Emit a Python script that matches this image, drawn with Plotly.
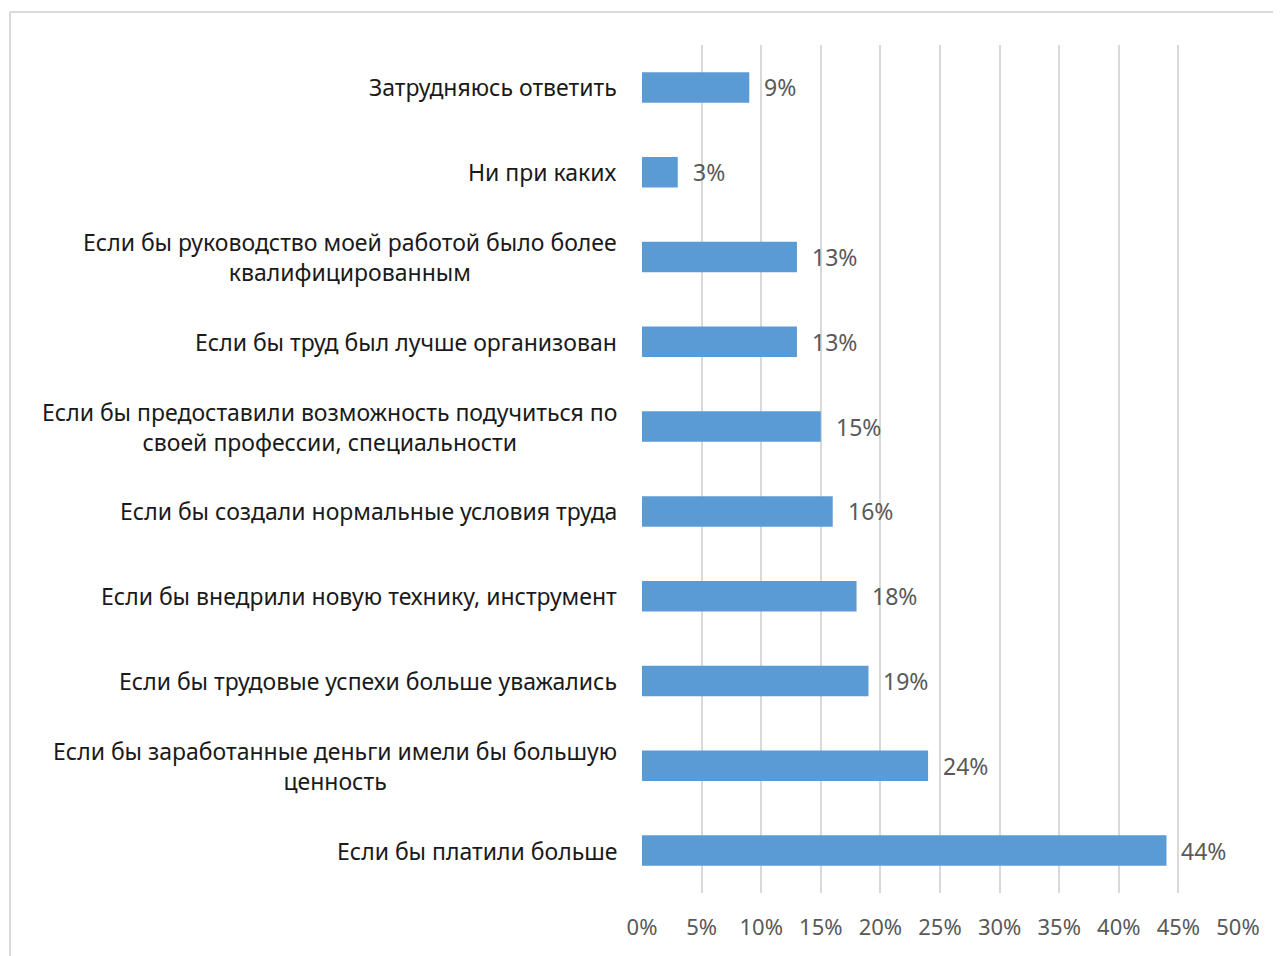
import plotly.graph_objects as go

categories = [
    "Затрудняюсь ответить",
    "Ни при каких",
    "Если бы руководство моей работой было более<br>квалифицированным",
    "Если бы труд был лучше организован",
    "Если бы предоставили возможность подучиться по<br>своей профессии, специальности",
    "Если бы создали нормальные условия труда",
    "Если бы внедрили новую технику, инструмент",
    "Если бы трудовые успехи больше уважались",
    "Если бы заработанные деньги имели бы большую<br>ценность",
    "Если бы платили больше",
]
values = [9, 3, 13, 13, 15, 16, 18, 19, 24, 44]
tick_vals = [0, 5, 10, 15, 20, 25, 30, 35, 40, 45, 50]
tick_text = [f"{v}%" for v in tick_vals]

# page body has an 8px margin; figure is offset by it
OFF = 8
W, H = 1281, 956
L, R, T, B = 642 - OFF, 1281 + OFF - 1238, 45 - OFF, 956 + OFF - 893
FONT = "Noto Sans"

fig = go.Figure()
fig.add_trace(go.Bar(
    x=values, y=categories, orientation="h",
    marker=dict(color="#5B9BD5", line=dict(width=0)),
    width=0.36, hoverinfo="x+y",
))

annotations = []
for c, v in zip(categories, values):
    annotations.append(dict(
        x=0, xref="paper", y=c, yref="y", text=c, showarrow=False,
        xanchor="right", yanchor="middle", align="center", xshift=-23,
        font=dict(family=FONT, size=23, color="#1a1a1a"),
    ))
    annotations.append(dict(
        x=v, xref="x", y=c, yref="y", text=f"{v}%", showarrow=False,
        xanchor="left", yanchor="middle", xshift=13,
        font=dict(family=FONT, size=23, color="#595959"),
    ))

pw = W - L - R
ph = H - T - B
bx = 10 - OFF  # border x in figure coords
by = 12 - OFF  # border y in figure coords
shapes = [
    dict(type="line", xref="paper", yref="paper",
         x0=(bx - L) / pw, x1=(W + 5 - L) / pw,
         y0=(H - B - by) / ph, y1=(H - B - by) / ph,
         line=dict(color="#d9d9d9", width=2)),
    dict(type="line", xref="paper", yref="paper",
         x0=(bx - L) / pw, x1=(bx - L) / pw,
         y0=(H - B - by) / ph, y1=(-B - 10) / ph,
         line=dict(color="#d9d9d9", width=2)),
]

fig.update_layout(
    width=W, height=H,
    margin=dict(l=L, r=R, t=T, b=B),
    paper_bgcolor="white", plot_bgcolor="white",
    showlegend=False,
    annotations=annotations,
    shapes=shapes,
    xaxis=dict(
        range=[0, 50], tickvals=tick_vals, ticktext=tick_text,
        showgrid=True, gridcolor="#d9d9d9", gridwidth=2,
        zeroline=False, showline=False,
        tickfont=dict(family=FONT, size=22, color="#595959"),
        ticklabelstandoff=19,
    ),
    yaxis=dict(
        categoryorder="array", categoryarray=categories,
        autorange="reversed", showticklabels=False,
        showgrid=False, zeroline=False, showline=False,
    ),
)

fig.write_html("out.html")
